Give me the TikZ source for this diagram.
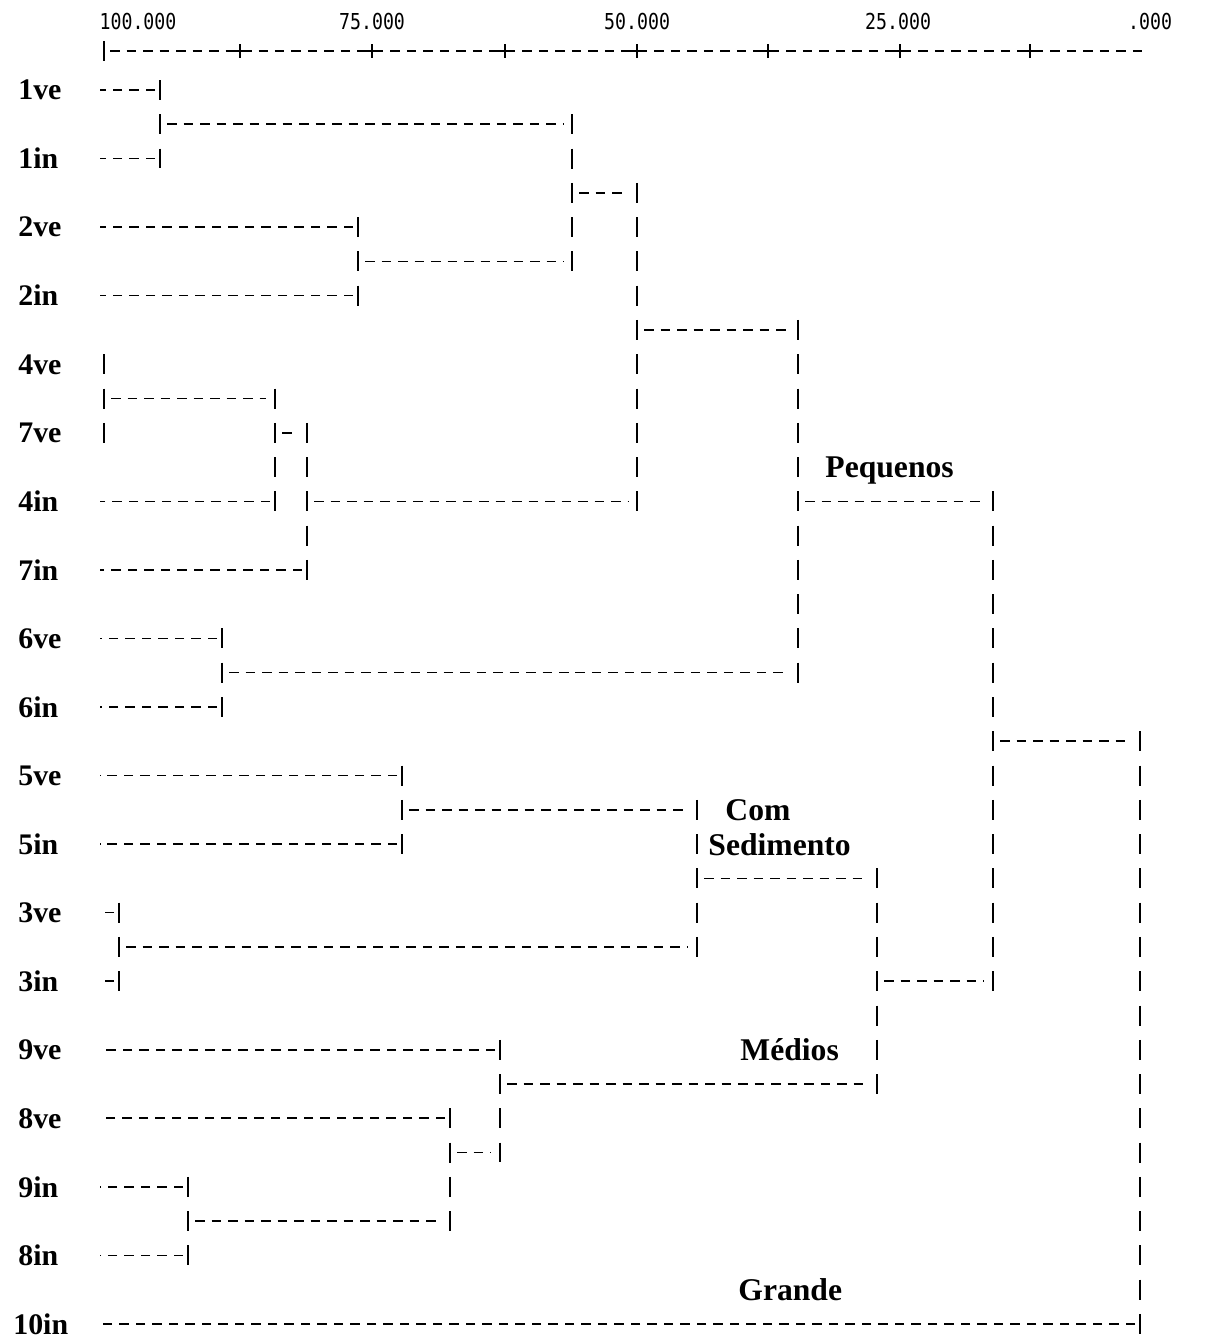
\documentclass[tikz,border=0pt]{standalone}
\usepackage{fontspec}
\setmainfont{Liberation Serif}
\newfontfamily\scalefont[FakeStretch=0.83]{DejaVu Sans Mono}

\tikzset{
    hdash/.style={line width=0.9pt, dash pattern=on 0.19cm off 0.14cm},
    vbar/.style={line width=0.9pt, dash pattern=on 0.4cm off 0.2856cm},
    leaf/.style={anchor=west, inner sep=0pt, text depth=0pt, font=\fontsize{17}{20}\selectfont\bfseries},
    grp/.style={anchor=west, inner sep=0pt, text depth=0pt, font=\fontsize{18}{21}\selectfont\bfseries},
    scalelab/.style={inner sep=0pt, font=\scalefont\fontsize{12.5}{14}\selectfont}
}

\begin{document}
\begin{tikzpicture}[x=0.02cm, y=-0.6856cm]
        \useasboundingbox (0,-2.625) rectangle (1208,36.44);
        % The scale on top.
            \foreach \x/\t in {138/100.000, 372/75.000, 637/50.000, 898/25.000, 1150/.000}
                \node[scalelab] (scale-\x) at (\x,-1.984) {\t};
            \draw[hdash] (110,-1.138) -- (1148,-1.138);
            \draw[vbar] (104,-1.428) -- (104,-0.848);
            \foreach \x in {240,372,505,637,768,900,1030}
                \draw[line width=0.8pt] (\x-6,-1.138) -- (\x+6,-1.138) (\x,-1.338) -- (\x,-0.938);
        % Below nodes are the leaf labels.
            \foreach \r/\t in {0/1ve, 2/1in, 4/2ve, 6/2in, 8/4ve, 10/7ve, 12/4in, 14/7in, 16/6ve, 18/6in,
                    20/5ve, 22/5in, 24/3ve, 26/3in, 28/9ve, 30/8ve, 32/9in, 34/8in}
                \node[leaf] (leaf-\t) at (18,\r) {\t};
            \node[leaf] (leaf-10in) at (13,36) {10in};
        % Dashes from each leaf to its first join (drawn from the bar back to the leaf).
            \foreach \r/\b in {0/160, 2/160, 4/358, 6/358, 12/275, 14/307, 16/222, 18/222, 20/402, 22/402,
                    24/119, 26/119, 28/500, 30/450, 32/188, 34/188, 36/1140}
                \draw[hdash] (\b-5,\r) -- (100,\r);
        % Vertical bars: x, first row, last row.
            \foreach \x/\a/\b in {160/0/2, 572/1/5, 358/4/6, 637/3/12, 104/8/10, 275/9/12, 307/10/14,
                    222/16/18, 798/7/17, 402/20/22, 119/24/26, 697/21/25, 188/32/34, 450/30/33,
                    500/28/31, 877/23/29, 993/12/26, 1140/19/36}
                \draw[vbar] (\x,\a-0.29) -- (\x,\b+0.29);
        % Horizontal links: row, from, to.
            \foreach \r/\a/\b in {1/160/572, 3/572/637, 5/358/572, 7/637/798, 9/104/275, 10/275/307,
                    12/307/637, 12/798/993, 17/222/798, 21/402/697, 25/119/697, 23/697/877,
                    33/188/450, 31/450/500, 29/500/877, 26/877/993, 19/993/1140}
                \draw[hdash] (\a+7,\r) -- (\b-9,\r);
        % Group names.
            \node[grp] (pequenos) at (825,11) {Pequenos};
            \node[grp] (com) at (725,21) {Com};
            \node[grp] (sedimento) at (708,22) {Sedimento};
            \node[grp] (medios) at (740,28) {Médios};
            \node[grp] (grande) at (738,35) {Grande};
    \end{tikzpicture}
\end{document}
